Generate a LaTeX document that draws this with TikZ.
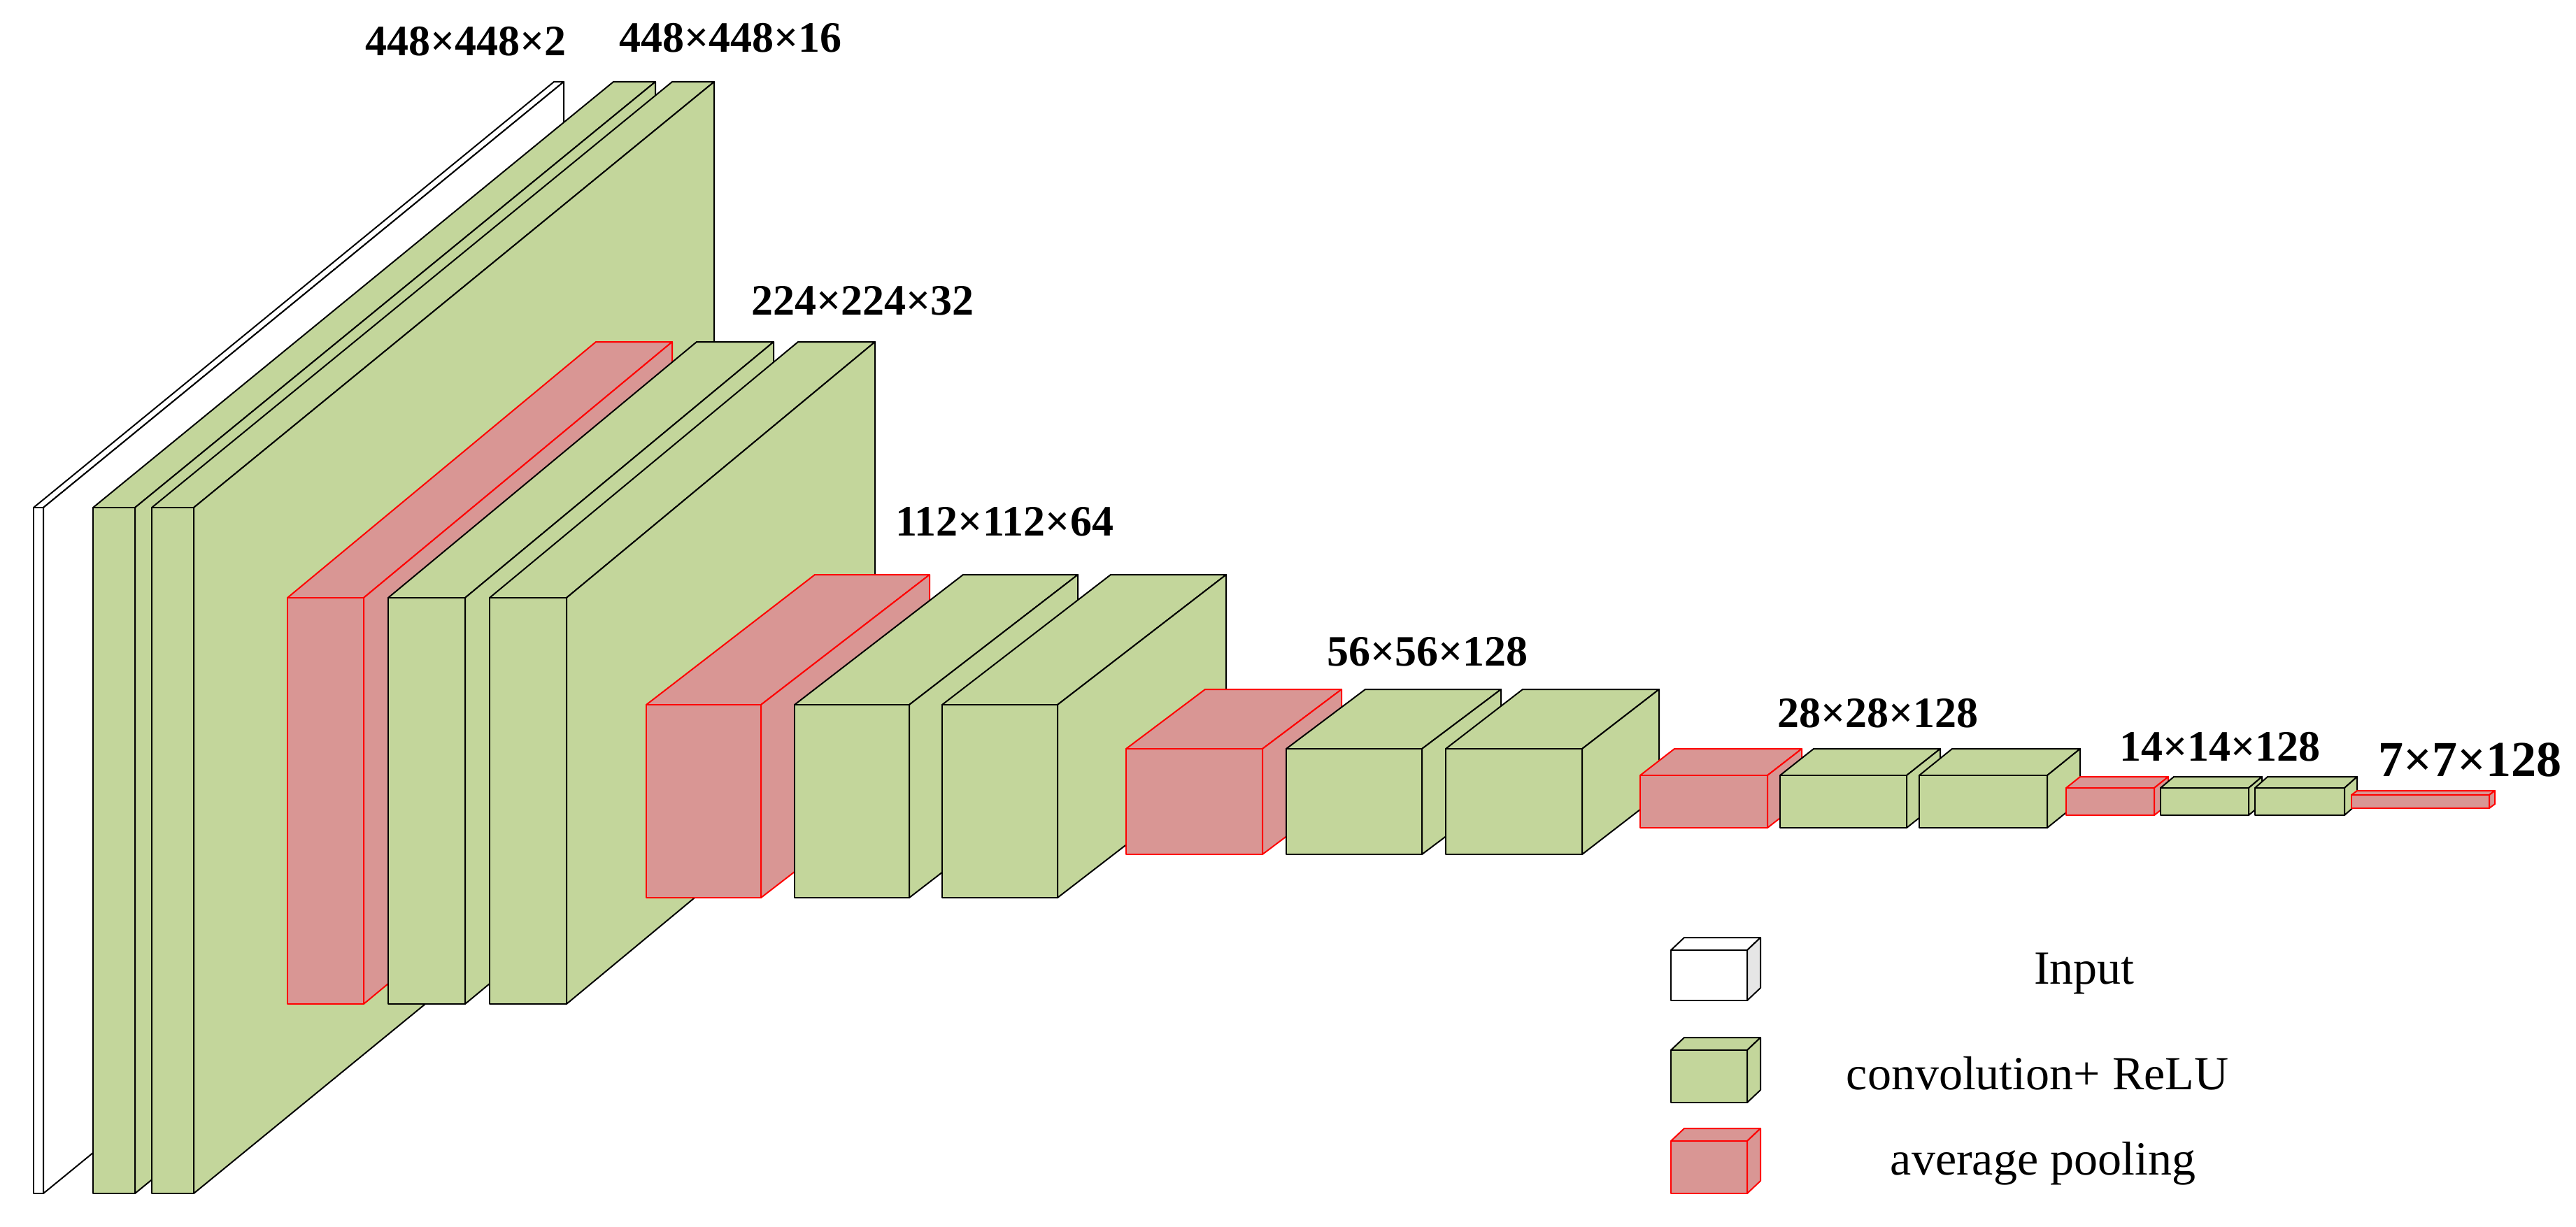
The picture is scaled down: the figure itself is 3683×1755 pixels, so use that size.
\documentclass[tikz,border=0pt]{standalone}
\usepackage{fontspec}
\setmainfont{Liberation Serif}
\definecolor{convg}{HTML}{C3D69B}
\definecolor{poolr}{HTML}{D99694}
\definecolor{sidegray}{HTML}{E6E6E6}
\tikzset{
  inbox/.style={fill=white,draw=black,line width=2pt,line join=round},
  convbox/.style={fill=convg,draw=black,line width=2pt,line join=round},
  poolbox/.style={fill=poolr,draw=red,line width=2pt,line join=round},
  dimlbl/.style={font=\bfseries\fontsize{62}{62}\selectfont,anchor=base west,inner sep=0pt},
  leglbl/.style={font=\fontsize{68}{68}\selectfont,anchor=base,inner sep=0pt}
}
% #1 x1, #2 x2, #3 ytop, #4 ybot, #5 dx, #6 dy, #7 style, #8 side fill
\newcommand\drawcube[8]{%
  \filldraw[#7] (#1,#3) -- (#2,#3) -- (#2+#5,#3+#6) -- (#1+#5,#3+#6) -- cycle;
  \filldraw[#7,fill=#8] (#2,#3) -- (#2+#5,#3+#6) -- (#2+#5,#4+#6) -- (#2,#4) -- cycle;
  \filldraw[#7] (#1,#3) rectangle (#2,#4);
}
\begin{document}
\begin{tikzpicture}[x=1pt,y=-1pt]
\useasboundingbox[fill=white] (0,0) rectangle (3683,1755);
% stage 448
\drawcube{48}{62}{726}{1707}{744}{-609}{inbox}{white}
\drawcube{133}{193}{726}{1707}{744}{-609}{convbox}{convg}
\drawcube{217}{277}{726}{1707}{744}{-609}{convbox}{convg}
% stage 224
\drawcube{411}{520}{855}{1436}{441}{-366}{poolbox}{poolr}
\drawcube{555}{665}{855}{1436}{441}{-366}{convbox}{convg}
\drawcube{700}{810}{855}{1436}{441}{-366}{convbox}{convg}
% stage 112
\drawcube{924}{1088}{1008}{1284}{241}{-186}{poolbox}{poolr}
\drawcube{1136}{1300}{1008}{1284}{241}{-186}{convbox}{convg}
\drawcube{1347}{1512}{1008}{1284}{241}{-186}{convbox}{convg}
% stage 56
\drawcube{1610}{1805}{1071}{1222}{113}{-85}{poolbox}{poolr}
\drawcube{1839}{2033}{1071}{1222}{113}{-85}{convbox}{convg}
\drawcube{2067}{2262}{1071}{1222}{110}{-85}{convbox}{convg}
% stage 28
\drawcube{2345}{2527}{1109}{1184}{49}{-38}{poolbox}{poolr}
\drawcube{2545}{2726}{1109}{1184}{48}{-38}{convbox}{convg}
\drawcube{2744}{2927}{1109}{1184}{47}{-38}{convbox}{convg}
% stage 14
\drawcube{2954}{3080}{1127}{1166}{20}{-16}{poolbox}{poolr}
\drawcube{3089}{3215}{1127}{1166}{19}{-16}{convbox}{convg}
\drawcube{3224}{3352}{1127}{1166}{18}{-16}{convbox}{convg}
% stage 7
\drawcube{3362}{3559}{1137}{1156}{8}{-6}{poolbox}{poolr}
% dimension labels
\node[dimlbl] (l448a) at (522,80) {448×448×2};
\node[dimlbl] (l448b) at (885,75) {448×448×16};
\node[dimlbl] (l224) at (1074,450) {224×224×32};
\node[dimlbl] (l112) at (1280,766) {112×112×64};
\node[dimlbl] (l56) at (1897,952) {56×56×128};
\node[dimlbl] (l28) at (2541,1040) {28×28×128};
\node[dimlbl] (l14) at (3030,1088) {14×14×128};
\node[dimlbl,font=\bfseries\fontsize{72}{72}\selectfont] (l7) at (3400,1110) {7×7×128};
% legend
\drawcube{2389}{2498}{1359}{1431}{19}{-18}{inbox}{sidegray}
\drawcube{2389}{2498}{1502}{1577}{19}{-18}{convbox}{convg}
\drawcube{2389}{2498}{1632}{1707}{19}{-18}{poolbox}{poolr}
\node[leglbl] (leg1) at (2980,1407) {Input};
\node[leglbl] (leg2) at (2913,1558) {convolution+ ReLU};
\node[leglbl] (leg3) at (2921,1680) {average pooling};
\end{tikzpicture}
\end{document}
